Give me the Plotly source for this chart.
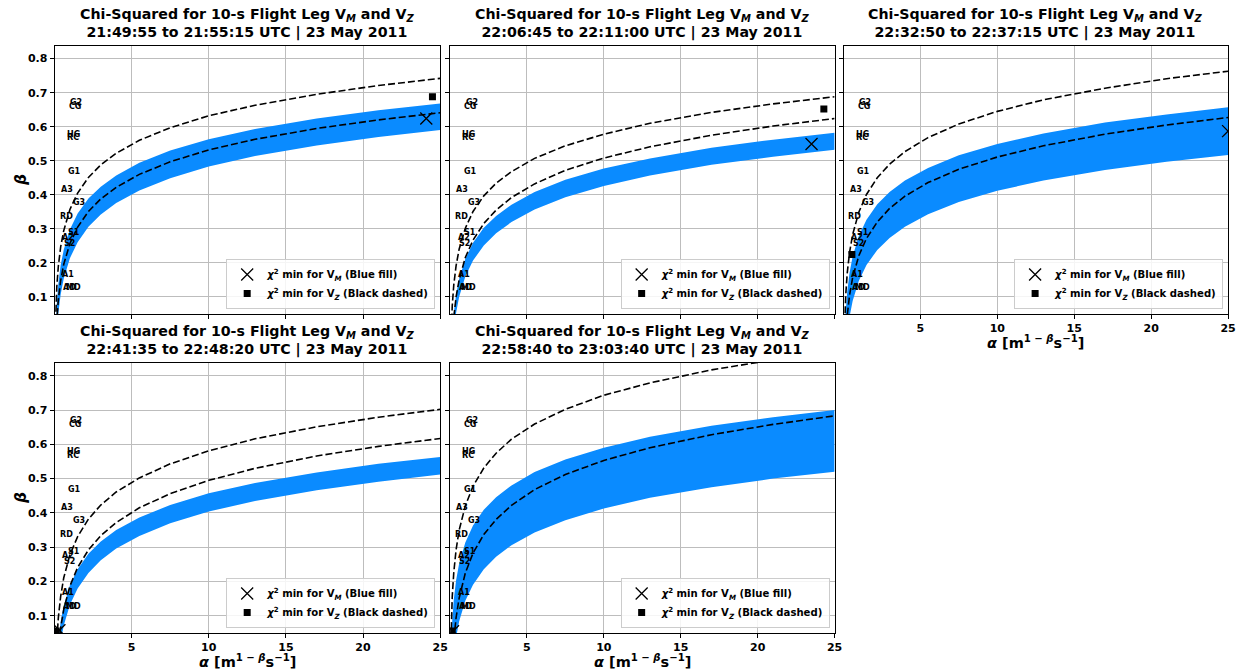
import plotly.graph_objects as go

# ---------------- data ----------------
alpha = [0.05, 0.1, 0.15, 0.25, 0.4, 0.6, 1, 1.5, 2.2, 3, 4, 5.5, 7.5, 10, 13, 17, 21, 25]

time_ranges = [
    "21:49:55 to 21:55:15 UTC | 23 May 2011",
    "22:06:45 to 22:11:00 UTC | 23 May 2011",
    "22:32:50 to 22:37:15 UTC | 23 May 2011",
    "22:41:35 to 22:48:20 UTC | 23 May 2011",
    "22:58:40 to 23:03:40 UTC | 23 May 2011",
]

# Blue fill (V_M chi-squared band) upper / lower edges
vm_hi_1 = [-0.047, 0.033, 0.080, 0.139, 0.193, 0.239, 0.298, 0.345, 0.389, 0.424, 0.457, 0.494, 0.530, 0.563, 0.593, 0.624, 0.648, 0.668]
vm_lo_1 = [-0.136, -0.055, -0.008, 0.052, 0.107, 0.154, 0.214, 0.261, 0.306, 0.342, 0.376, 0.413, 0.449, 0.483, 0.514, 0.545, 0.570, 0.590]
vm_hi_2 = [-0.133, -0.053, -0.006, 0.053, 0.107, 0.153, 0.212, 0.259, 0.303, 0.338, 0.371, 0.408, 0.444, 0.477, 0.507, 0.538, 0.562, 0.582]
vm_lo_2 = [-0.186, -0.106, -0.059, 0.000, 0.054, 0.101, 0.160, 0.207, 0.251, 0.287, 0.320, 0.357, 0.393, 0.426, 0.457, 0.488, 0.512, 0.532]
vm_hi_3 = [-0.073, 0.009, 0.056, 0.116, 0.171, 0.219, 0.279, 0.327, 0.372, 0.408, 0.442, 0.479, 0.516, 0.549, 0.580, 0.612, 0.636, 0.657]
vm_lo_3 = [-0.197, -0.118, -0.071, -0.012, 0.042, 0.088, 0.147, 0.194, 0.238, 0.273, 0.306, 0.343, 0.379, 0.412, 0.442, 0.473, 0.497, 0.517]
vm_hi_4 = [-0.159, -0.079, -0.031, 0.028, 0.083, 0.130, 0.189, 0.236, 0.281, 0.317, 0.350, 0.387, 0.423, 0.457, 0.487, 0.518, 0.543, 0.563]
vm_lo_4 = [-0.222, -0.140, -0.092, -0.032, 0.024, 0.072, 0.132, 0.180, 0.225, 0.262, 0.296, 0.333, 0.370, 0.404, 0.435, 0.466, 0.491, 0.512]
vm_hi_5 = [-0.045, 0.038, 0.086, 0.148, 0.204, 0.253, 0.314, 0.363, 0.409, 0.446, 0.480, 0.519, 0.556, 0.590, 0.622, 0.654, 0.679, 0.700]
vm_lo_5 = [-0.206, -0.125, -0.078, -0.018, 0.037, 0.084, 0.144, 0.191, 0.236, 0.272, 0.306, 0.343, 0.379, 0.413, 0.444, 0.475, 0.500, 0.520]

# Black dashed (V_Z chi-squared contour) upper / lower curves
vz_hi_1 = [-0.002, 0.081, 0.130, 0.191, 0.247, 0.295, 0.357, 0.405, 0.451, 0.488, 0.522, 0.560, 0.597, 0.632, 0.663, 0.695, 0.721, 0.742]
vz_lo_1 = [-0.100, -0.018, 0.031, 0.092, 0.148, 0.196, 0.257, 0.305, 0.351, 0.388, 0.422, 0.460, 0.497, 0.532, 0.563, 0.595, 0.620, 0.641]
vz_hi_2 = [-0.057, 0.026, 0.074, 0.136, 0.192, 0.241, 0.302, 0.351, 0.397, 0.434, 0.468, 0.507, 0.544, 0.578, 0.610, 0.642, 0.667, 0.688]
vz_lo_2 = [-0.164, -0.076, -0.025, 0.040, 0.100, 0.151, 0.216, 0.267, 0.316, 0.355, 0.392, 0.432, 0.472, 0.508, 0.541, 0.575, 0.602, 0.624]
vz_hi_3 = [-0.036, 0.053, 0.105, 0.171, 0.231, 0.283, 0.349, 0.401, 0.450, 0.490, 0.527, 0.568, 0.608, 0.645, 0.679, 0.713, 0.741, 0.763]
vz_lo_3 = [-0.157, -0.069, -0.018, 0.046, 0.105, 0.157, 0.221, 0.272, 0.320, 0.360, 0.396, 0.436, 0.475, 0.511, 0.544, 0.578, 0.605, 0.627]
vz_hi_4 = [-0.117, -0.025, 0.028, 0.095, 0.157, 0.211, 0.278, 0.331, 0.382, 0.423, 0.461, 0.502, 0.543, 0.581, 0.616, 0.651, 0.679, 0.702]
vz_lo_4 = [-0.213, -0.121, -0.066, 0.002, 0.065, 0.119, 0.187, 0.241, 0.292, 0.334, 0.372, 0.415, 0.456, 0.495, 0.530, 0.566, 0.594, 0.617]
vz_hi_5 = [0.003, 0.099, 0.156, 0.227, 0.293, 0.350, 0.421, 0.478, 0.531, 0.574, 0.615, 0.659, 0.702, 0.743, 0.779, 0.817, 0.846, 0.871]
vz_lo_5 = [-0.201, -0.103, -0.045, 0.028, 0.095, 0.152, 0.225, 0.283, 0.337, 0.381, 0.422, 0.468, 0.512, 0.553, 0.590, 0.628, 0.658, 0.683]

# chi-squared minima
vm_min_alpha = [24.1, 23.5, 25.0, 0.32, 0.2]
vm_min_beta = [0.624, 0.549, 0.587, 0.058, 0.055]
vz_min_alpha = [24.5, 24.3, 0.55, 0.11, 0.15]
vz_min_beta = [0.688, 0.652, 0.225, 0.056, 0.056]

# hydrometeor-type reference labels
label_names = ["G2", "CG", "HG", "RC", "G1", "A3", "G3", "RD", "S1", "A2", "S2", "A1", "AD", "MD"]
label_alpha = [0.97, 0.86, 0.75, 0.75, 0.82, 0.34, 1.14, 0.26, 0.82, 0.43, 0.54, 0.45, 0.50, 0.66]
label_beta = [0.670, 0.658, 0.578, 0.567, 0.468, 0.417, 0.378, 0.337, 0.288, 0.276, 0.258, 0.167, 0.128, 0.128]

x_ticks = [5, 10, 15, 20, 25]
y_ticks = [0.1, 0.2, 0.3, 0.4, 0.5, 0.6, 0.7, 0.8]

vm_hi = [vm_hi_1, vm_hi_2, vm_hi_3, vm_hi_4, vm_hi_5]
vm_lo = [vm_lo_1, vm_lo_2, vm_lo_3, vm_lo_4, vm_lo_5]
vz_hi = [vz_hi_1, vz_hi_2, vz_hi_3, vz_hi_4, vz_hi_5]
vz_lo = [vz_lo_1, vz_lo_2, vz_lo_3, vz_lo_4, vz_lo_5]

# ---------------- layout geometry ----------------
W, H = 1249, 669
col_px = [(55, 443), (453, 840), (849, 1236), (55, 443), (453, 840)]
row_px = [(46, 314), (46, 314), (46, 314), (363, 633), (363, 633)]

FONT = "DejaVu Sans"
BLUE = "#0A8BFF"
GRID = "#bdbdbd"

fig = go.Figure()
annotations = []
layout = dict(
    width=W, height=H,
    margin=dict(l=0, r=0, t=0, b=0),
    paper_bgcolor="white", plot_bgcolor="white",
    font=dict(family=FONT, color="black"),
)

for i in range(5):
    n = i + 1
    xa = "x" if n == 1 else f"x{n}"
    ya = "y" if n == 1 else f"y{n}"
    leg = "legend" if n == 1 else f"legend{n}"
    x0, x1 = col_px[i]
    y0, y1 = row_px[i]

    # blue fill band
    fig.add_trace(go.Scatter(x=alpha, y=vm_lo[i], mode="lines", line=dict(width=0, color=BLUE),
                             xaxis=xa, yaxis=ya, showlegend=False, hoverinfo="skip"))
    fig.add_trace(go.Scatter(x=alpha, y=vm_hi[i], mode="lines", line=dict(width=0, color=BLUE),
                             fill="tonexty", fillcolor=BLUE,
                             xaxis=xa, yaxis=ya, showlegend=False, hoverinfo="skip"))
    # dashed curves
    for curve in (vz_hi[i], vz_lo[i]):
        fig.add_trace(go.Scatter(x=alpha, y=curve, mode="lines",
                                 line=dict(color="black", width=1.6, dash="7px,3px"),
                                 xaxis=xa, yaxis=ya, showlegend=False, hoverinfo="skip"))
    # minima markers
    fig.add_trace(go.Scatter(
        x=[vm_min_alpha[i]], y=[vm_min_beta[i]], mode="markers",
        marker=dict(symbol="x-thin-open", size=12, color="black", line=dict(color="black", width=1.3)),
        name="<b><i>χ</i><sup>2</sup> min for V<sub><i>M</i></sub> (Blue fill)</b>",
        xaxis=xa, yaxis=ya, legend=leg, showlegend=True, legendrank=1))
    fig.add_trace(go.Scatter(
        x=[vz_min_alpha[i]], y=[vz_min_beta[i]], mode="markers",
        marker=dict(symbol="square", size=7, color="black"),
        name="<b><i>χ</i><sup>2</sup> min for V<sub><i>Z</i></sub> (Black dashed)</b>",
        xaxis=xa, yaxis=ya, legend=leg, showlegend=True, legendrank=2))

    # labels
    for nm, la, lb in zip(label_names, label_alpha, label_beta):
        annotations.append(dict(x=la, y=lb, xref=xa, yref=ya, text=f"<b>{nm}</b>",
                                showarrow=False, xanchor="left", yanchor="middle", borderpad=0,
                                font=dict(family=FONT, size=8, color="black")))

    axis_common = dict(showline=True, mirror=True, linecolor="black", linewidth=1,
                       ticks="outside", ticklen=4, tickwidth=1, tickcolor="black",
                       showgrid=True, gridcolor=GRID, gridwidth=1.2, zeroline=False,
                       tickfont=dict(family=FONT, size=11, color="black", weight="bold"))
    layout["xaxis" if n == 1 else f"xaxis{n}"] = dict(
        axis_common, domain=[x0 / W, x1 / W], range=[0.01, 25], anchor=ya,
        tickvals=x_ticks, ticktext=[str(t) for t in x_ticks], showticklabels=(i >= 2))
    layout["yaxis" if n == 1 else f"yaxis{n}"] = dict(
        axis_common, domain=[1 - y1 / H, 1 - y0 / H], range=[0.05, 0.837], anchor=xa,
        tickvals=y_ticks, ticktext=[f"{t:.1f}" for t in y_ticks], showticklabels=(i in (0, 3)))

    # legend
    layout[leg] = dict(x=(x1 - 5) / W, y=1 - (y1 - 5) / H, xanchor="right", yanchor="bottom",
                       traceorder="normal",
                       bgcolor="rgba(255,255,255,0.85)", bordercolor="#cccccc", borderwidth=1,
                       font=dict(family=FONT, size=10.1, color="black"), tracegroupgap=0)

    # title
    annotations.append(dict(
        x=(x0 + x1) / 2 / W, y=1 - (y0 - 3) / H, xref="paper", yref="paper",
        xanchor="center", yanchor="bottom", showarrow=False,
        text=("<b>Chi-Squared for 10-s Flight Leg V<sub><i>M</i></sub> and V<sub><i>Z</i></sub></b><br>"
              f"<b>{time_ranges[i]}</b>"),
        font=dict(family=FONT, size=14.2, color="black")))

    # x-axis title
    if i >= 2:
        annotations.append(dict(
            x=(x0 + x1) / 2 / W, y=1 - (y1 + 28) / H, xref="paper", yref="paper",
            xanchor="center", yanchor="middle", showarrow=False,
            text="<b><i>α</i> [m<sup>1 − <i>β</i></sup>s<sup>−1</sup>]</b>",
            font=dict(family=FONT, size=14.5, color="black")))
    # y-axis title
    if i in (0, 3):
        annotations.append(dict(
            x=21 / W, y=1 - (y0 + y1) / 2 / H, xref="paper", yref="paper",
            xanchor="center", yanchor="middle", showarrow=False, textangle=-90,
            text="<b><i>β</i></b>", font=dict(family=FONT, size=15, color="black")))

layout["annotations"] = annotations
fig.update_layout(**layout)
fig.write_html("out.html")
